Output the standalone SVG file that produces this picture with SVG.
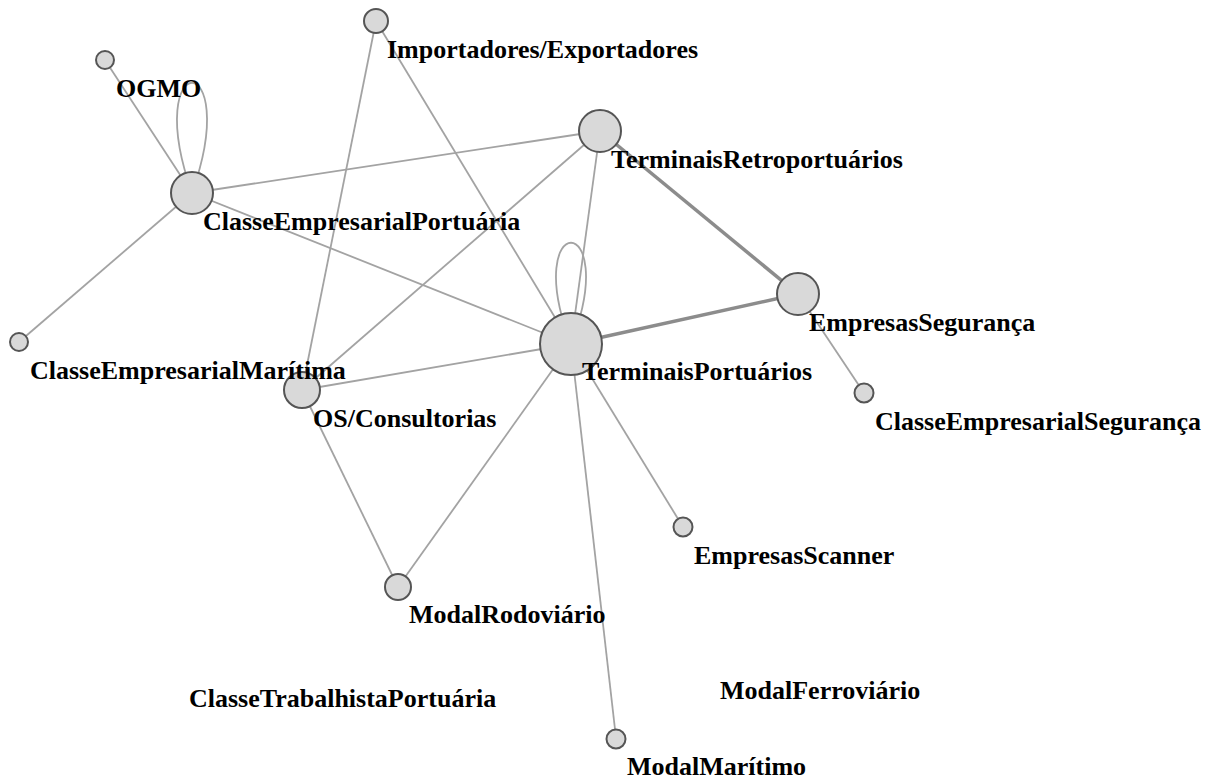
<svg xmlns="http://www.w3.org/2000/svg" width="1220" height="780" viewBox="0 0 1220 780">
<style>
.bg{fill:#ffffff}
.e{stroke:#a3a3a3;stroke-width:1.8;fill:none}
.t{stroke:#8c8c8c;stroke-width:3.5;fill:none}
.n circle{fill:#d9d9d9;stroke:#555555;stroke-width:2}
.n text{font-family:"Liberation Serif","Times New Roman",serif;font-weight:bold;font-size:26px;fill:#000000}
</style>
<rect class="bg" x="0" y="0" width="1220" height="780"/>
<g id="connectors">
<line class="e" x1="105" y1="60" x2="192" y2="193"/>
<path class="e" d="M192 193 C140 46 244 46 192 193"/>
<line class="e" x1="192" y1="193" x2="600" y2="131"/>
<line class="e" x1="192" y1="193" x2="571" y2="344"/>
<line class="e" x1="192" y1="193" x2="19" y2="342"/>
<line class="e" x1="376" y1="21" x2="302" y2="390"/>
<line class="e" x1="376" y1="21" x2="571" y2="344"/>
<line class="e" x1="600" y1="131" x2="302" y2="390"/>
<line class="e" x1="600" y1="131" x2="571" y2="344"/>
<line class="t" x1="600" y1="131" x2="798" y2="294"/>
<line class="t" x1="571" y1="344" x2="798" y2="294"/>
<path class="e" d="M571 344 C519 209 623 209 571 344"/>
<line class="e" x1="571" y1="344" x2="302" y2="390"/>
<line class="e" x1="571" y1="344" x2="398" y2="587"/>
<line class="e" x1="571" y1="344" x2="683" y2="527"/>
<line class="e" x1="571" y1="344" x2="616" y2="738"/>
<line class="e" x1="798" y1="294" x2="864" y2="393"/>
<line class="e" x1="302" y1="390" x2="398" y2="587"/>
</g>
<g id="node-importadores" class="n"><circle cx="376" cy="21" r="12"/><text x="387" y="58">Importadores/Exportadores</text></g>
<g id="node-ogmo" class="n"><circle cx="105" cy="60" r="9"/><text x="116" y="97">OGMO</text></g>
<g id="node-cep" class="n"><circle cx="192" cy="193" r="21"/><text x="203" y="230">ClasseEmpresarialPortuária</text></g>
<g id="node-tr" class="n"><circle cx="600" cy="131" r="21"/><text x="611" y="168">TerminaisRetroportuários</text></g>
<g id="node-es" class="n"><circle cx="798" cy="294" r="21"/><text x="809" y="331">EmpresasSegurança</text></g>
<g id="node-tp" class="n"><circle cx="571" cy="344" r="31"/><text x="582" y="380">TerminaisPortuários</text></g>
<g id="node-os" class="n"><circle cx="302" cy="390" r="18"/><text x="313" y="427">OS/Consultorias</text></g>
<g id="node-cem" class="n"><circle cx="19" cy="342" r="9"/><text x="30" y="379">ClasseEmpresarialMarítima</text></g>
<g id="node-ces" class="n"><circle cx="864" cy="393" r="9.5"/><text x="875" y="430">ClasseEmpresarialSegurança</text></g>
<g id="node-scanner" class="n"><circle cx="683" cy="527" r="9.5"/><text x="694" y="564">EmpresasScanner</text></g>
<g id="node-mr" class="n"><circle cx="398" cy="587" r="13"/><text x="409" y="623">ModalRodoviário</text></g>
<g id="node-ctp" class="n"><text x="189" y="707">ClasseTrabalhistaPortuária</text></g>
<g id="node-mf" class="n"><text x="720" y="699">ModalFerroviário</text></g>
<g id="node-mm" class="n"><circle cx="616" cy="739" r="9.5"/><text x="627" y="775">ModalMarítimo</text></g>
</svg>
